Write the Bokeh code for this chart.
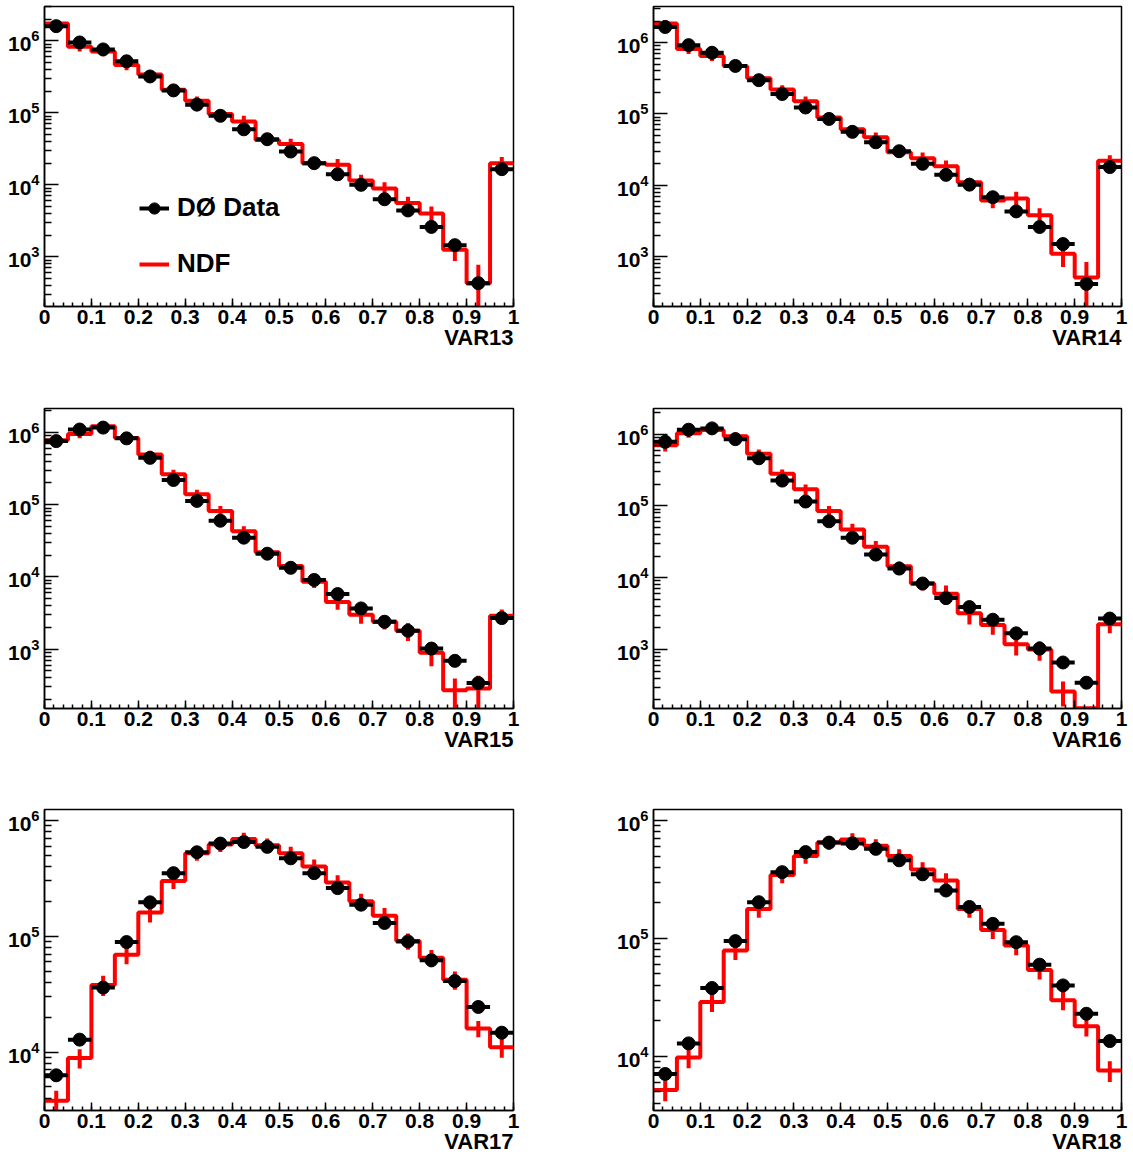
from bokeh.plotting import figure
from bokeh.layouts import column, row
from bokeh.models import FixedTicker, CustomJSTickFormatter, Range1d, Legend, LegendItem, Title
from bokeh.embed import file_html
from bokeh.resources import INLINE

# ---------------- data ----------------
bin_edges = [0.00, 0.05, 0.10, 0.15, 0.20, 0.25, 0.30, 0.35, 0.40, 0.45, 0.50,
             0.55, 0.60, 0.65, 0.70, 0.75, 0.80, 0.85, 0.90, 0.95, 1.00]
bin_centers = [0.025, 0.075, 0.125, 0.175, 0.225, 0.275, 0.325, 0.375, 0.425, 0.475,
               0.525, 0.575, 0.625, 0.675, 0.725, 0.775, 0.825, 0.875, 0.925, 0.975]

var13_data = [1.6e6, 9.5e5, 7.6e5, 5.2e5, 3.2e5, 2.05e5, 1.3e5, 9.1e4, 5.9e4, 4.3e4,
              2.9e4, 2.0e4, 1.4e4, 1.0e4, 6.3e3, 4.4e3, 2.6e3, 1.45e3, 430, 1.65e4]
var13_ndf = [1.74e6, 8.3e5, 7.1e5, 4.6e5, 3.4e5, 2.1e5, 1.47e5, 9.6e4, 7.6e4, 4.2e4,
             3.7e4, 2.0e4, 1.9e4, 1.15e4, 8.9e3, 5.6e3, 4.0e3, 1.25e3, 430, 2.0e4]
var13_err = [0.12, 0.14, 0.14, 0.15, 0.13, 0.15, 0.15, 0.15, 0.2, 0.15,
             0.18, 0.15, 0.2, 0.2, 0.22, 0.22, 0.25, 0.3, 0.8, 0.22]

var14_data = [1.65e6, 9.2e5, 7.2e5, 4.7e5, 2.97e5, 1.9e5, 1.23e5, 8.5e4, 5.6e4, 4.0e4,
              3.0e4, 2.0e4, 1.4e4, 1.02e4, 6.8e3, 4.3e3, 2.6e3, 1.5e3, 415, 1.8e4]
var14_ndf = [1.85e6, 8.1e5, 6.5e5, 4.7e5, 3.15e5, 2.2e5, 1.5e5, 8.9e4, 6.1e4, 4.7e4,
             2.9e4, 2.4e4, 1.85e4, 1.1e4, 6.1e3, 6.5e3, 3.8e3, 1.1e3, 510, 2.2e4]
var14_err = [0.12, 0.15, 0.15, 0.13, 0.13, 0.15, 0.17, 0.15, 0.15, 0.17,
             0.17, 0.2, 0.2, 0.15, 0.22, 0.25, 0.25, 0.35, 0.65, 0.2]

var15_data = [7.6e5, 1.1e6, 1.17e6, 8.3e5, 4.46e5, 2.2e5, 1.13e5, 6.0e4, 3.5e4, 2.1e4,
              1.34e4, 9.1e3, 5.8e3, 3.67e3, 2.4e3, 1.8e3, 1.02e3, 690, 340, 2.7e3]
var15_ndf = [7.8e5, 9.5e5, 1.22e6, 8.4e5, 4.96e5, 2.65e5, 1.4e5, 8.2e4, 4.3e4, 2.2e4,
             1.42e4, 8.6e3, 4.5e3, 3.0e3, 2.4e3, 1.8e3, 890, 270, 285, 2.9e3]
var15_err = [0.12, 0.12, 0.12, 0.12, 0.13, 0.15, 0.15, 0.17, 0.17, 0.15,
             0.15, 0.18, 0.22, 0.25, 0.22, 0.28, 0.35, 0.45, 0.5, 0.22]

var16_data = [7.8e5, 1.15e6, 1.2e6, 8.5e5, 4.6e5, 2.25e5, 1.15e5, 6.1e4, 3.6e4, 2.1e4,
              1.34e4, 8.3e3, 5.2e3, 3.9e3, 2.6e3, 1.68e3, 1.03e3, 660, 345, 2.7e3]
var16_ndf = [7.0e5, 1.03e6, 1.14e6, 9.3e5, 5.3e5, 2.8e5, 1.7e5, 8.5e4, 4.7e4, 2.7e4,
             1.44e4, 8.3e3, 6.0e3, 3.2e3, 2.2e3, 1.18e3, 1.0e3, 260, 152, 2.25e3]
var16_err = [0.18, 0.14, 0.12, 0.14, 0.15, 0.15, 0.17, 0.17, 0.2, 0.2,
             0.17, 0.2, 0.3, 0.3, 0.27, 0.3, 0.3, 0.38, 0.0, 0.25]

var17_data = [6.3e3, 1.28e4, 3.6e4, 8.9e4, 1.96e5, 3.5e5, 5.3e5, 6.3e5, 6.5e5, 5.9e5,
              4.7e5, 3.5e5, 2.6e5, 1.87e5, 1.3e5, 9.0e4, 6.2e4, 4.1e4, 2.45e4, 1.47e4]
var17_ndf = [3.8e3, 8.9e3, 3.8e4, 6.9e4, 1.6e5, 3.0e5, 5.2e5, 6.2e5, 6.9e5, 6.1e5,
             5.2e5, 4.0e5, 2.9e5, 2.0e5, 1.5e5, 9.1e4, 6.5e4, 4.2e4, 1.6e4, 1.1e4]
var17_err = [0.22, 0.19, 0.2, 0.17, 0.18, 0.15, 0.14, 0.14, 0.13, 0.14,
             0.14, 0.15, 0.16, 0.16, 0.17, 0.16, 0.17, 0.18, 0.16, 0.19]

var18_data = [7.1e3, 1.29e4, 3.8e4, 9.5e4, 2.03e5, 3.65e5, 5.4e5, 6.5e5, 6.4e5, 5.75e5,
              4.6e5, 3.5e5, 2.55e5, 1.85e5, 1.33e5, 9.3e4, 6.0e4, 4.0e4, 2.3e4, 1.35e4]
var18_ndf = [5.2e3, 9.8e3, 2.9e4, 7.9e4, 1.78e5, 3.46e5, 5.0e5, 6.5e5, 6.9e5, 6.1e5,
             5.0e5, 3.85e5, 3.1e5, 1.78e5, 1.18e5, 8.7e4, 5.4e4, 3.0e4, 1.8e4, 7.6e3]
var18_err = [0.2, 0.19, 0.18, 0.17, 0.16, 0.15, 0.14, 0.13, 0.13, 0.14,
             0.14, 0.15, 0.15, 0.16, 0.16, 0.17, 0.17, 0.18, 0.18, 0.2]

var_names = ["VAR13", "VAR14", "VAR15", "VAR16", "VAR17", "VAR18"]
y_ranges = [(204, 3.0e6), (200, 3.2e6), (151, 2.15e6), (151, 2.27e6), (3130, 1.24e6), (3480, 1.24e6)]

x_major = [0.0, 0.1, 0.2, 0.3, 0.4, 0.5, 0.6, 0.7, 0.8, 0.9, 1.0]

# ---------------- styling ----------------
FONT = "Liberation Sans"
RED = "#ff0000"

y_major = [10.0 ** n for n in range(1, 8)]
y_minor = [k * 10.0 ** n for n in range(1, 7) for k in range(2, 10)]
x_minor = [round(0.02 * i, 2) for i in range(51)]


def make_panel(name, data, ndf, err, yr, width, height, bl, br, bt, bb, legend=False):
    p = figure(width=width, height=height, x_range=Range1d(0, 1), y_range=Range1d(*yr),
               y_axis_type="log", output_backend="svg", toolbar_location=None,
               min_border_left=bl, min_border_right=br, min_border_top=bt, min_border_bottom=bb,
               background_fill_color="white", border_fill_color="white")
    p.xgrid.visible = False
    p.ygrid.visible = False
    p.outline_line_color = "black"
    p.outline_line_width = 1.5

    # NDF histogram
    step_r = p.step(x=bin_edges, y=ndf + [ndf[-1]], mode="after", line_color=RED, line_width=4)
    lo = [v * (1 - e) for v, e in zip(ndf, err)]
    hi = [v * (1 + e) for v, e in zip(ndf, err)]
    p.segment(x0=bin_centers, y0=lo, x1=bin_centers, y1=hi, line_color=RED, line_width=4)

    # data points
    seg_r = p.segment(x0=bin_edges[:-1], y0=data, x1=bin_edges[1:], y1=data,
                      line_color="black", line_width=4)
    dot_r = p.scatter(x=bin_centers, y=data, marker="circle", size=13,
                      fill_color="black", line_color="black")

    xa = p.xaxis[0]
    xa.ticker = FixedTicker(ticks=x_major, minor_ticks=x_minor)
    xa.formatter = CustomJSTickFormatter(code="return tick.toFixed(1).replace('.0', '');")
    xa.major_tick_in = 8
    xa.major_tick_out = 0
    xa.minor_tick_in = 4
    xa.minor_tick_out = 0
    xa.axis_line_width = 1.5
    xa.major_tick_line_width = 1.5
    xa.minor_tick_line_width = 1.5
    xa.major_label_text_font = FONT
    xa.major_label_text_font_style = "bold"
    xa.major_label_text_font_size = "21px"
    xa.major_label_text_color = "black"
    xa.major_label_standoff = 3

    # axis title, right-aligned under the tick labels
    p.add_layout(Title(text=name, align="right", text_font=FONT, text_font_style="bold",
                       text_font_size="22px", text_color="black", standoff=-8), "below")

    ya = p.yaxis[0]
    ya.ticker = FixedTicker(ticks=y_major, minor_ticks=y_minor)
    ya.major_tick_in = 14
    ya.major_tick_out = 0
    ya.minor_tick_in = 7
    ya.minor_tick_out = 0
    ya.axis_line_width = 1.5
    ya.major_tick_line_width = 1.5
    ya.minor_tick_line_width = 1.5
    ya.major_label_text_font = FONT
    ya.major_label_text_font_style = "bold"
    ya.major_label_text_font_size = "21px"
    ya.major_label_text_color = "black"
    ya.major_label_standoff = 5

    if legend:
        leg = Legend(items=[LegendItem(label="DØ Data", renderers=[seg_r, dot_r]),
                            LegendItem(label="NDF", renderers=[step_r])],
                     location=(95, 27), padding=0, margin=0, spacing=25,
                     border_line_color=None, background_fill_alpha=0,
                     glyph_width=30, glyph_height=28, label_height=28, label_standoff=8,
                     label_text_font=FONT, label_text_font_style="bold",
                     label_text_font_size="26px", label_text_color="black")
        p.add_layout(leg)
    return p


all_data = [var13_data, var14_data, var15_data, var16_data, var17_data, var18_data]
all_ndf = [var13_ndf, var14_ndf, var15_ndf, var16_ndf, var17_ndf, var18_ndf]
all_err = [var13_err, var14_err, var15_err, var16_err, var17_err, var18_err]

# (width, border_left, border_right) per column; (height, border_top, border_bottom) per row
col_specs = [(609, 44, 96), (524, 44, 12)]
row_specs = [(402, 6, 96), (401, 6, 95), (352, 6, 45)]

rows = []
for r in range(3):
    figs = []
    for c in range(2):
        i = 2 * r + c
        w, bl, br = col_specs[c]
        h, bt, bb = row_specs[r]
        figs.append(make_panel(var_names[i], all_data[i], all_ndf[i], all_err[i], y_ranges[i],
                               w, h, bl, br, bt, bb, legend=(i == 0)))
    rows.append(row(*figs))

layout = column(*rows)
open("out.html", "w").write(file_html(layout, INLINE))
